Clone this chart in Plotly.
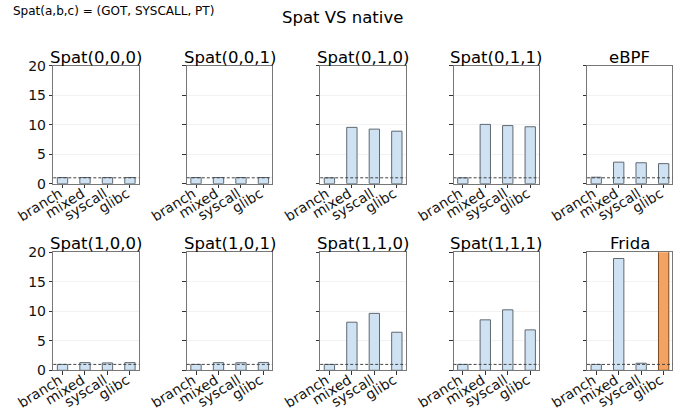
import plotly.graph_objects as go

categories = ["branch", "mixed", "syscall", "glibc"]
panel_titles = ["Spat(0,0,0)", "Spat(0,0,1)", "Spat(0,1,0)", "Spat(0,1,1)", "eBPF",
                "Spat(1,0,0)", "Spat(1,0,1)", "Spat(1,1,0)", "Spat(1,1,1)", "Frida"]
spat_000 = [1.05, 1.05, 1.05, 1.05]
spat_001 = [1.05, 1.05, 1.05, 1.05]
spat_010 = [1.0, 9.55, 9.25, 8.9]
spat_011 = [1.0, 10.05, 9.85, 9.65]
ebpf = [1.1, 3.65, 3.55, 3.4]
spat_100 = [1.0, 1.3, 1.25, 1.3]
spat_101 = [1.0, 1.3, 1.28, 1.33]
spat_110 = [1.0, 8.15, 9.65, 6.45]
spat_111 = [1.0, 8.55, 10.25, 6.85]
frida = [1.0, 18.95, 1.2, 45.0]
panel_values = [spat_000, spat_001, spat_010, spat_011, ebpf,
                spat_100, spat_101, spat_110, spat_111, frida]
y_ticks = [0, 5, 10, 15, 20]
baseline = 1.0

W, H = 676, 417
col_lefts = [53.3, 186.8, 320.2, 453.6, 587.0]
col_w = 85.4
row_tops = [65.7, 252.3]
row_h = 118.0

fig = go.Figure()
blue = "#cfe2f3"
edge = "#5f6870"
font = "DejaVu Sans"

for i, (title, vals) in enumerate(zip(panel_titles, panel_values)):
    r, c = divmod(i, 5)
    n = i + 1
    xa = "x" if n == 1 else f"x{n}"
    ya = "y" if n == 1 else f"y{n}"
    colors = [blue] * 4
    lines = [edge] * 4
    if title == "Frida":
        colors[3] = "#f4a261"
        lines[3] = "#7a4a22"
    fig.add_trace(go.Bar(
        x=categories, y=vals, xaxis=xa, yaxis=ya, width=0.46,
        marker=dict(color=colors, line=dict(color=lines, width=1)),
        showlegend=False, cliponaxis=True, hoverinfo="skip"))
    x0 = col_lefts[c] / W
    x1 = (col_lefts[c] + col_w) / W
    ytop = 1 - row_tops[r] / H
    ybot = 1 - (row_tops[r] + row_h) / H
    fig.layout[f"xaxis{'' if n == 1 else n}"] = dict(
        domain=[x0, x1], anchor=ya, range=[-0.41, 3.39], automargin=False,
        tickangle=-32, ticks="outside", ticklen=3.5, tickcolor="#333",
        ticklabelstandoff=-8, ticklabelshift=-3,
        showline=True, mirror=True, linecolor="#777", linewidth=1,
        showgrid=False, zeroline=False,
        tickfont=dict(family=font, size=14, color="#111"))
    fig.layout[f"yaxis{'' if n == 1 else n}"] = dict(
        domain=[ybot, ytop], anchor=xa, range=[0, 20], automargin=False,
        tickvals=y_ticks, showticklabels=(c == 0),
        ticks="outside", ticklen=3.5, tickcolor="#333",
        showline=True, mirror=True, linecolor="#777", linewidth=1,
        showgrid=True, gridcolor="rgba(0,0,0,0.05)", zeroline=False,
        tickfont=dict(family=font, size=14, color="#111"))
    fig.add_shape(type="line", xref=f"{xa} domain", yref=ya,
                  x0=0, x1=1, y0=baseline, y1=baseline, layer="above",
                  line=dict(color="#444", width=1, dash="3px,2px"))
    fig.add_annotation(text=title, xref="paper", yref="paper",
                       x=(x0 + x1) / 2, y=ytop, xanchor="center", yanchor="bottom",
                       yshift=-3, showarrow=False,
                       font=dict(family=font, size=16.5, color="#000"))

fig.add_annotation(text="Spat VS native", xref="paper", yref="paper",
                   x=342 / W, y=1 - 6 / H, xanchor="center", yanchor="top",
                   showarrow=False, font=dict(family=font, size=16.5, color="#000"))
fig.add_annotation(text="Spat(a,b,c) = (GOT, SYSCALL, PT)", xref="paper", yref="paper",
                   x=11 / W, y=1 - 2 / H, xanchor="left", yanchor="top",
                   showarrow=False, font=dict(family=font, size=12, color="#000"))

fig.update_layout(width=W, height=H, margin=dict(l=0, r=0, t=0, b=0),
                  paper_bgcolor="white", plot_bgcolor="white", bargap=0.5)
fig.write_html("out.html", config={"displayModeBar": False},
               post_script="document.body.style.margin='0';document.body.style.padding='0';")
